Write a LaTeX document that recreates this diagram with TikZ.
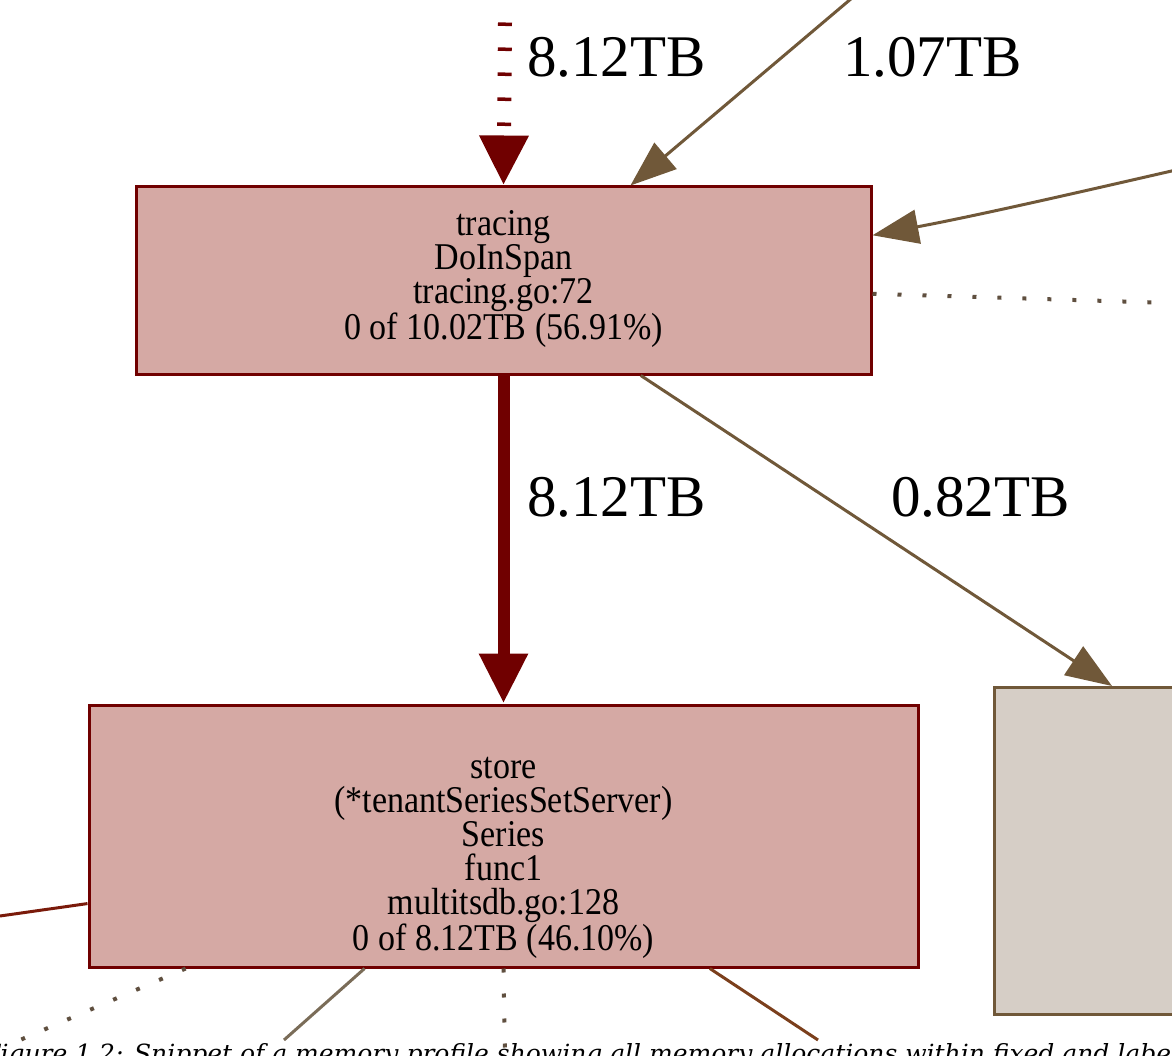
\documentclass[tikz,border=0pt]{standalone}
\usepackage{fontspec}
\setmainfont{Liberation Serif}
\newfontfamily\boxfont[FakeStretch=0.9]{Liberation Serif}
\newfontfamily\capfont{DejaVu Serif}
\usetikzlibrary{arrows.meta,calc}

\definecolor{hotred}{HTML}{700000}
\definecolor{hotfill}{HTML}{D5A9A4}
\definecolor{warm}{HTML}{705839}
\definecolor{coldfill}{HTML}{D6CEC6}
\definecolor{dotcol}{HTML}{5F4F3F}
\definecolor{rustedge}{HTML}{7A1A0A}
\definecolor{brownedge}{HTML}{7B3F1C}
\definecolor{greyedge}{HTML}{7A6C58}

\tikzset{
  fnbox/.style={rectangle, draw=hotred, fill=hotfill, line width=3pt, inner sep=0pt},
  boxtext/.style={font=\boxfont\fontsize{37.8}{34}\selectfont, align=center, inner sep=0pt},
  coldbox/.style={rectangle, draw=warm, fill=coldfill, line width=3pt},
  hotedge/.style={draw=hotred, line width=12pt,
    -{Triangle[length=50pt,width=46pt]}},
  warmedge/.style={draw=warm, line width=3pt,
    -{Triangle[length=46pt,width=34pt]}},
  dotedge/.style={draw=dotcol, line width=4pt, dash pattern=on 4pt off 21pt},
  weight/.style={font=\fontsize{59}{60}\selectfont, inner sep=0pt}
}

\begin{document}
\begin{tikzpicture}[x=1pt,y=-1pt]
\useasboundingbox (0,0) rectangle (1172,1056);
\clip (0,0) rectangle (1172,1056);

% call-graph nodes
\node[fnbox, minimum width=735pt, minimum height=187pt] (span) at (503.5,280.5) {};
\node[boxtext] (spantext) at (503.5,279)
  {tracing\\DoInSpan\\tracing.go:72\\0 of 10.02TB (56.91\%)};
\node[fnbox, minimum width=829pt, minimum height=262pt] (store) at (503.5,836) {};
\node[boxtext] (storetext) at (503.5,858)
  {store\\(*tenantSeriesSetServer)\\Series\\func1\\multitsdb.go:128\\0 of 8.12TB (46.10\%)};
\node[coldbox, minimum width=320pt, minimum height=327pt, anchor=north west] (cold) at (993,686) {};

% free ends of edges leaving the visible area
\coordinate (topin) at (505,22.5);
\coordinate (trin) at (852,-2);
\coordinate (rin) at (1176,170);
\coordinate (rdot) at (1172,303);
\coordinate (lin) at (0,916);
\coordinate (bl) at (20,1040);
\coordinate (bm) at (284,1040);
\coordinate (bc) at (505,1056);
\coordinate (br) at (818,1040);

% edges into tracing.DoInSpan
\draw[hotedge, line width=14pt, dash pattern=on 3.5pt off 21.5pt] (topin) -- (span.north);
\draw[warmedge] (trin) -- ($(span.north west)!0.672!(span.north east)$);
\draw[warmedge] (rin) .. controls (1080,192) and (980,215) .. ($(span.north east)!0.262!(span.south east)$);
\draw[dotedge] ($(span.north east)!0.57!(span.south east)$) -- (rdot);

% edges out of tracing.DoInSpan
\draw[hotedge] (span.south) -- (store.north);
\draw[warmedge] ($(span.south west)!0.686!(span.south east)$) -- ($(cold.north west)+(119,0)$);

% edges around the store node
\draw[rustedge, line width=3pt] (lin) -- ($(store.south west)!0.245!(store.north west)$);
\draw[dotedge] ($(store.south west)!0.118!(store.south east)$) -- (bl);
\draw[greyedge, line width=3pt] ($(store.south west)!0.333!(store.south east)$) -- (bm);
\draw[dotedge] ($(store.south west)!0.5!(store.south east)$) -- (bc);
\draw[brownedge, line width=3pt] ($(store.south west)!0.748!(store.south east)$) -- (br);

% edge weights
\node[weight, anchor=west] (w1) at (527,57) {8.12TB};
\node[weight, anchor=west] (w2) at (843,57) {1.07TB};
\node[weight, anchor=west] (w3) at (527,497) {8.12TB};
\node[weight, anchor=west] (w4) at (891,497) {0.82TB};

% caption, cut by the lower edge
\node[font=\capfont\itshape\fontsize{25}{28}\selectfont, anchor=base west, inner sep=0pt] (cap) at (-17,1062)
  {Figure 1.2: Snippet of a memory profile showing all memory allocations within fixed and labeled histograms};
\end{tikzpicture}
\end{document}
